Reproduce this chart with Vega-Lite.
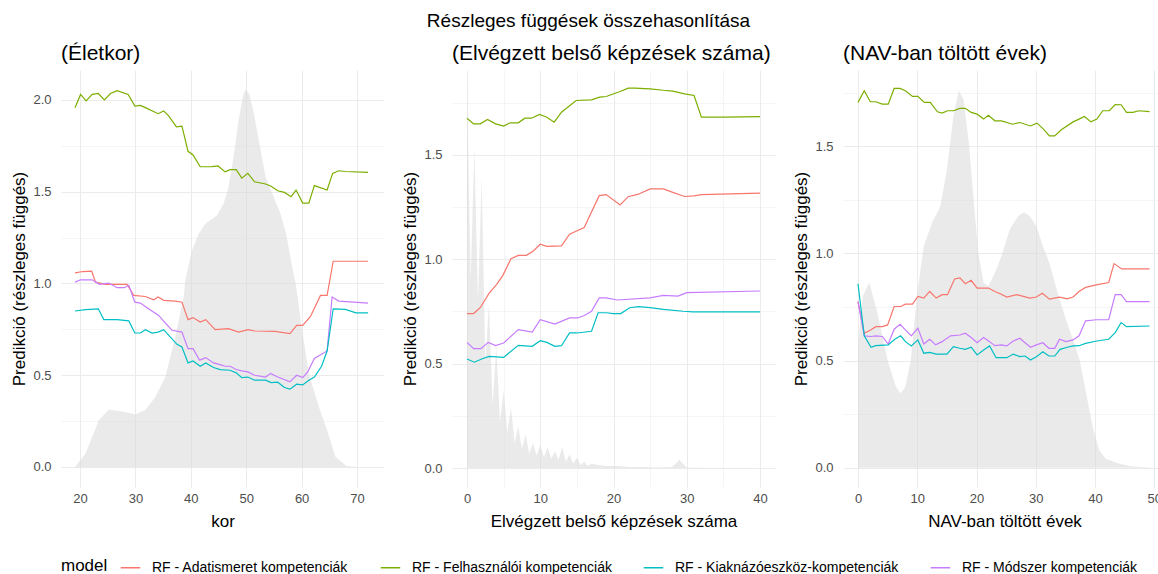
{
"$schema": "https://vega.github.io/schema/vega-lite/v6.json",
"padding": {"left": 10, "top": 12, "right": 0, "bottom": 0},
"background": "white",
"title": {"text": "Részleges függések összehasonlítása", "fontSize": 19, "fontWeight": "normal", "anchor": "middle", "offset": 12, "color": "#000000"},
"config": {
  "font": "Liberation Sans",
  "view": {"stroke": null},
  "axis": {"domain": false, "ticks": false, "labelColor": "#4D4D4D", "labelFontSize": 13, "titleFontSize": 17, "titleFontWeight": "normal", "titleColor": "#000000", "gridColor": "#EBEBEB", "labelOverlap": false},
  "axisY": {"labelPadding": 10, "titlePadding": 4},
  "axisX": {"labelPadding": 5, "titlePadding": 8},
  "title": {"fontWeight": "normal", "color": "#000000"},
  "legend": {"orient": "bottom", "direction": "horizontal", "offset": 28, "titleOrient": "left", "titleAnchor": "middle", "titleBaseline": "middle", "titleFontSize": 17, "titleFontWeight": "normal", "titleColor": "#000000", "labelFontSize": 14, "labelColor": "#000000", "labelLimit": 0, "labelOffset": 11, "symbolType": "stroke", "symbolStrokeWidth": 1.5, "symbolSize": 380, "columnPadding": 28, "titlePadding": 12}
},
"spacing": 17,
"resolve": {"scale": {"x": "independent", "y": "independent", "color": "shared"}},
"hconcat": [
 {
  "width": 323, "height": 417,
  "title": {"text": "(Életkor)", "anchor": "start", "frame": "group", "fontSize": 21, "offset": 6},
  "layer": [
   {"data": {"name": "dens"}, "transform": [{"filter": "datum.panel == 'kor'"}],
    "mark": {"type": "area", "color": "#D9D9D9", "opacity": 0.55},
    "encoding": {
      "x": {"field": "x", "type": "quantitative", "title": "kor", "scale": {"domain": [16.57, 74.87], "nice": false, "zero": false},
            "axis": {"values": [20,25,30,35,40,45,50,55,60,65,70], "labelExpr": "datum.value % 10 == 0 ? datum.label : ''", "gridWidth": {"condition": {"test": "datum.value % 10 == 0", "value": 1}, "value": 0.5}}},
      "y": {"field": "density", "type": "quantitative", "title": "Predikció (részleges függés)", "scale": {"domain": [-0.109, 2.163], "nice": false, "zero": false},
            "axis": {"values": [0,0.25,0.5,0.75,1,1.25,1.5,1.75,2], "labelExpr": "datum.value % 0.5 == 0 ? format(datum.value, '.1f') : ''", "gridWidth": {"condition": {"test": "datum.value % 0.5 == 0", "value": 1}, "value": 0.5}}},
      "y2": {"datum": 0}
    }},
   {"data": {"name": "pd"}, "transform": [{"filter": "datum.panel == 'kor'"}],
    "mark": {"type": "line", "strokeWidth": 1.2},
    "encoding": {
      "x": {"field": "x", "type": "quantitative"},
      "y": {"field": "value", "type": "quantitative"},
      "color": {"field": "model", "type": "nominal", "title": "model",
        "scale": {"domain": ["RF - Adatismeret kompetenciák", "RF - Felhasználói kompetenciák", "RF - Kiaknázóeszköz-kompetenciák", "RF - Módszer kompetenciák"], "range": ["#F8766D", "#7CAE00", "#00BFC4", "#C77CFF"]}}
    }}
  ]
 },
 {
  "width": 323, "height": 417,
  "title": {"text": "(Elvégzett belső képzések száma)", "anchor": "start", "frame": "group", "fontSize": 21, "offset": 6},
  "layer": [
   {"data": {"name": "dens"}, "transform": [{"filter": "datum.panel == 'kepz'"}],
    "mark": {"type": "area", "color": "#D9D9D9", "opacity": 0.55},
    "encoding": {
      "x": {"field": "x", "type": "quantitative", "title": "Elvégzett belső képzések száma", "scale": {"domain": [-2.05, 42.05], "nice": false, "zero": false},
            "axis": {"values": [0,5,10,15,20,25,30,35,40], "labelExpr": "datum.value % 10 == 0 ? datum.label : ''", "gridWidth": {"condition": {"test": "datum.value % 10 == 0", "value": 1}, "value": 0.5}}},
      "y": {"field": "density", "type": "quantitative", "title": "Predikció (részleges függés)", "scale": {"domain": [-0.091, 1.907], "nice": false, "zero": false},
            "axis": {"values": [0,0.25,0.5,0.75,1,1.25,1.5,1.75], "labelExpr": "datum.value % 0.5 == 0 ? format(datum.value, '.1f') : ''", "gridWidth": {"condition": {"test": "datum.value % 0.5 == 0", "value": 1}, "value": 0.5}}},
      "y2": {"datum": 0}
    }},
   {"data": {"name": "pd"}, "transform": [{"filter": "datum.panel == 'kepz'"}],
    "mark": {"type": "line", "strokeWidth": 1.2},
    "encoding": {
      "x": {"field": "x", "type": "quantitative"},
      "y": {"field": "value", "type": "quantitative"},
      "color": {"field": "model", "type": "nominal", "title": "model"}
    }}
  ]
 },
 {
  "width": 323, "height": 417,
  "title": {"text": "(NAV-ban töltött évek)", "anchor": "start", "frame": "group", "fontSize": 21, "offset": 6},
  "layer": [
   {"data": {"name": "dens"}, "transform": [{"filter": "datum.panel == 'nav'"}],
    "mark": {"type": "area", "color": "#D9D9D9", "opacity": 0.55},
    "encoding": {
      "x": {"field": "x", "type": "quantitative", "title": "NAV-ban töltött évek", "scale": {"domain": [-2.53, 51.97], "nice": false, "zero": false},
            "axis": {"values": [0,5,10,15,20,25,30,35,40,45,50], "labelExpr": "datum.value % 10 == 0 ? datum.label : ''", "gridWidth": {"condition": {"test": "datum.value % 10 == 0", "value": 1}, "value": 0.5}}},
      "y": {"field": "density", "type": "quantitative", "title": "Predikció (részleges függés)", "scale": {"domain": [-0.09, 1.855], "nice": false, "zero": false},
            "axis": {"values": [0,0.25,0.5,0.75,1,1.25,1.5,1.75], "labelExpr": "datum.value % 0.5 == 0 ? format(datum.value, '.1f') : ''", "gridWidth": {"condition": {"test": "datum.value % 0.5 == 0", "value": 1}, "value": 0.5}}},
      "y2": {"datum": 0}
    }},
   {"data": {"name": "pd"}, "transform": [{"filter": "datum.panel == 'nav'"}],
    "mark": {"type": "line", "strokeWidth": 1.2},
    "encoding": {
      "x": {"field": "x", "type": "quantitative"},
      "y": {"field": "value", "type": "quantitative"},
      "color": {"field": "model", "type": "nominal", "title": "model"}
    }}
  ]
 }
],
"datasets": {
 "dens": [
  {"panel":"kor","x":19.1,"density":0},{"panel":"kor","x":21,"density":0.074},{"panel":"kor","x":23.4,"density":0.255},{"panel":"kor","x":25.2,"density":0.313},{"panel":"kor","x":28.2,"density":0.3},{"panel":"kor","x":30,"density":0.286},{"panel":"kor","x":31.8,"density":0.31},{"panel":"kor","x":33.6,"density":0.382},{"panel":"kor","x":35.4,"density":0.49},{"panel":"kor","x":37.2,"density":0.708},{"panel":"kor","x":38.7,"density":0.925},{"panel":"kor","x":39,"density":1.016},{"panel":"kor","x":40.2,"density":1.18},{"panel":"kor","x":41.4,"density":1.27},{"panel":"kor","x":42.6,"density":1.324},{"panel":"kor","x":44.7,"density":1.37},{"panel":"kor","x":45.9,"density":1.433},{"panel":"kor","x":46.8,"density":1.523},{"panel":"kor","x":47.7,"density":1.686},{"panel":"kor","x":48.6,"density":1.886},{"panel":"kor","x":49.5,"density":2.03},{"panel":"kor","x":49.9,"density":2.058},{"panel":"kor","x":50.6,"density":2.03},{"panel":"kor","x":51.4,"density":1.922},{"panel":"kor","x":52.4,"density":1.76},{"panel":"kor","x":53.5,"density":1.578},{"panel":"kor","x":55,"density":1.469},{"panel":"kor","x":56.2,"density":1.379},{"panel":"kor","x":57.2,"density":1.27},{"panel":"kor","x":58.3,"density":1.089},{"panel":"kor","x":58.9,"density":1.007},{"panel":"kor","x":60.1,"density":0.745},{"panel":"kor","x":61.3,"density":0.509},{"panel":"kor","x":63.1,"density":0.328},{"panel":"kor","x":64.6,"density":0.2},{"panel":"kor","x":66.1,"density":0.056},{"panel":"kor","x":68.1,"density":0.005},{"panel":"kor","x":70,"density":0},{"panel":"kor","x":72,"density":0},
  {"panel":"kepz","x":0,"density":1.82},{"panel":"kepz","x":0.5,"density":0.9},{"panel":"kepz","x":1,"density":1.53},{"panel":"kepz","x":1.5,"density":0.8},{"panel":"kepz","x":2,"density":1.39},{"panel":"kepz","x":2.5,"density":0.5},{"panel":"kepz","x":3,"density":0.79},{"panel":"kepz","x":3.5,"density":0.3},{"panel":"kepz","x":4,"density":0.58},{"panel":"kepz","x":4.5,"density":0.22},{"panel":"kepz","x":5,"density":0.37},{"panel":"kepz","x":5.5,"density":0.17},{"panel":"kepz","x":6,"density":0.29},{"panel":"kepz","x":6.5,"density":0.12},{"panel":"kepz","x":7,"density":0.2},{"panel":"kepz","x":7.5,"density":0.09},{"panel":"kepz","x":8,"density":0.16},{"panel":"kepz","x":8.5,"density":0.07},{"panel":"kepz","x":9,"density":0.12},{"panel":"kepz","x":9.5,"density":0.06},{"panel":"kepz","x":10,"density":0.11},{"panel":"kepz","x":10.5,"density":0.05},{"panel":"kepz","x":11,"density":0.1},{"panel":"kepz","x":11.5,"density":0.045},{"panel":"kepz","x":12,"density":0.08},{"panel":"kepz","x":12.5,"density":0.04},{"panel":"kepz","x":13,"density":0.1},{"panel":"kepz","x":13.5,"density":0.03},{"panel":"kepz","x":14,"density":0.065},{"panel":"kepz","x":14.5,"density":0.02},{"panel":"kepz","x":15,"density":0.05},{"panel":"kepz","x":15.5,"density":0.015},{"panel":"kepz","x":16,"density":0.03},{"panel":"kepz","x":16.5,"density":0.01},{"panel":"kepz","x":17,"density":0.02},{"panel":"kepz","x":18,"density":0.015},{"panel":"kepz","x":19,"density":0.01},{"panel":"kepz","x":20,"density":0.01},{"panel":"kepz","x":21,"density":0.008},{"panel":"kepz","x":22,"density":0.005},{"panel":"kepz","x":24,"density":0.005},{"panel":"kepz","x":26,"density":0.003},{"panel":"kepz","x":28,"density":0.005},{"panel":"kepz","x":28.5,"density":0.02},{"panel":"kepz","x":29,"density":0.04},{"panel":"kepz","x":29.5,"density":0.02},{"panel":"kepz","x":30,"density":0.003},{"panel":"kepz","x":32,"density":0.001},{"panel":"kepz","x":40,"density":0},
  {"panel":"nav","x":0,"density":0.58},{"panel":"nav","x":0.8,"density":0.8},{"panel":"nav","x":1.9,"density":0.864},{"panel":"nav","x":3.3,"density":0.72},{"panel":"nav","x":5,"density":0.5},{"panel":"nav","x":6.4,"density":0.378},{"panel":"nav","x":7.2,"density":0.346},{"panel":"nav","x":8,"density":0.378},{"panel":"nav","x":8.9,"density":0.5},{"panel":"nav","x":10,"density":0.814},{"panel":"nav","x":11.1,"density":1.033},{"panel":"nav","x":12.5,"density":1.142},{"panel":"nav","x":13.9,"density":1.22},{"panel":"nav","x":15,"density":1.39},{"panel":"nav","x":16.1,"density":1.641},{"panel":"nav","x":17,"density":1.758},{"panel":"nav","x":17.8,"density":1.719},{"panel":"nav","x":18.7,"density":1.516},{"panel":"nav","x":19.5,"density":1.251},{"panel":"nav","x":20.3,"density":1.0},{"panel":"nav","x":21.2,"density":0.861},{"panel":"nav","x":22,"density":0.846},{"panel":"nav","x":23.1,"density":0.908},{"panel":"nav","x":24.2,"density":0.986},{"panel":"nav","x":25.6,"density":1.111},{"panel":"nav","x":27,"density":1.173},{"panel":"nav","x":28,"density":1.192},{"panel":"nav","x":29,"density":1.173},{"panel":"nav","x":30.1,"density":1.126},{"panel":"nav","x":31.2,"density":1.033},{"panel":"nav","x":32.3,"density":0.955},{"panel":"nav","x":33.7,"density":0.814},{"panel":"nav","x":35.1,"density":0.69},{"panel":"nav","x":36.5,"density":0.58},{"panel":"nav","x":37.4,"density":0.502},{"panel":"nav","x":38.5,"density":0.346},{"panel":"nav","x":39.6,"density":0.19},{"panel":"nav","x":40.7,"density":0.081},{"panel":"nav","x":41.8,"density":0.042},{"panel":"nav","x":44.1,"density":0.019},{"panel":"nav","x":46.3,"density":0.006},{"panel":"nav","x":50,"density":0}
 ],
 "pd": [
  {"panel":"kor","model":"RF - Felhasználói kompetenciák","x":19.1,"value":1.957},{"panel":"kor","model":"RF - Felhasználói kompetenciák","x":20.1,"value":2.03},{"panel":"kor","model":"RF - Felhasználói kompetenciák","x":21.1,"value":1.995},{"panel":"kor","model":"RF - Felhasználói kompetenciák","x":22.2,"value":2.03},{"panel":"kor","model":"RF - Felhasználói kompetenciák","x":23.3,"value":2.035},{"panel":"kor","model":"RF - Felhasználói kompetenciák","x":24.4,"value":2.0},{"panel":"kor","model":"RF - Felhasználói kompetenciák","x":25.5,"value":2.035},{"panel":"kor","model":"RF - Felhasználói kompetenciák","x":26.7,"value":2.05},{"panel":"kor","model":"RF - Felhasználói kompetenciák","x":28.7,"value":2.03},{"panel":"kor","model":"RF - Felhasználói kompetenciák","x":29.9,"value":1.966},{"panel":"kor","model":"RF - Felhasználói kompetenciák","x":30.9,"value":1.97},{"panel":"kor","model":"RF - Felhasználói kompetenciák","x":31.8,"value":1.958},{"panel":"kor","model":"RF - Felhasználói kompetenciák","x":34.1,"value":1.925},{"panel":"kor","model":"RF - Felhasználói kompetenciák","x":35.1,"value":1.94},{"panel":"kor","model":"RF - Felhasználói kompetenciák","x":36,"value":1.913},{"panel":"kor","model":"RF - Felhasználói kompetenciák","x":37.4,"value":1.853},{"panel":"kor","model":"RF - Felhasználói kompetenciák","x":38.4,"value":1.857},{"panel":"kor","model":"RF - Felhasználói kompetenciák","x":39.5,"value":1.72},{"panel":"kor","model":"RF - Felhasználói kompetenciák","x":40.4,"value":1.7},{"panel":"kor","model":"RF - Felhasználói kompetenciák","x":41.7,"value":1.636},{"panel":"kor","model":"RF - Felhasználói kompetenciák","x":43.8,"value":1.637},{"panel":"kor","model":"RF - Felhasználói kompetenciák","x":44.9,"value":1.64},{"panel":"kor","model":"RF - Felhasználói kompetenciák","x":46.2,"value":1.608},{"panel":"kor","model":"RF - Felhasználói kompetenciák","x":47.1,"value":1.62},{"panel":"kor","model":"RF - Felhasználói kompetenciák","x":48.2,"value":1.62},{"panel":"kor","model":"RF - Felhasználói kompetenciák","x":49.2,"value":1.574},{"panel":"kor","model":"RF - Felhasználói kompetenciák","x":50.3,"value":1.6},{"panel":"kor","model":"RF - Felhasználói kompetenciák","x":51.5,"value":1.554},{"panel":"kor","model":"RF - Felhasználói kompetenciák","x":53.5,"value":1.542},{"panel":"kor","model":"RF - Felhasználói kompetenciák","x":54.5,"value":1.53},{"panel":"kor","model":"RF - Felhasználói kompetenciák","x":55.7,"value":1.505},{"panel":"kor","model":"RF - Felhasználói kompetenciák","x":56.9,"value":1.496},{"panel":"kor","model":"RF - Felhasználói kompetenciák","x":58.1,"value":1.473},{"panel":"kor","model":"RF - Felhasználói kompetenciák","x":59,"value":1.509},{"panel":"kor","model":"RF - Felhasználói kompetenciák","x":60.2,"value":1.438},{"panel":"kor","model":"RF - Felhasználói kompetenciák","x":61.3,"value":1.438},{"panel":"kor","model":"RF - Felhasználói kompetenciák","x":62.3,"value":1.533},{"panel":"kor","model":"RF - Felhasználói kompetenciák","x":64.6,"value":1.509},{"panel":"kor","model":"RF - Felhasználói kompetenciák","x":65.6,"value":1.6},{"panel":"kor","model":"RF - Felhasználói kompetenciák","x":66.7,"value":1.614},{"panel":"kor","model":"RF - Felhasználói kompetenciák","x":67.9,"value":1.61},{"panel":"kor","model":"RF - Felhasználói kompetenciák","x":72,"value":1.605},
  {"panel":"kor","model":"RF - Adatismeret kompetenciák","x":19.1,"value":1.058},{"panel":"kor","model":"RF - Adatismeret kompetenciák","x":20.5,"value":1.065},{"panel":"kor","model":"RF - Adatismeret kompetenciák","x":22.1,"value":1.067},{"panel":"kor","model":"RF - Adatismeret kompetenciák","x":22.8,"value":1.007},{"panel":"kor","model":"RF - Adatismeret kompetenciák","x":24.6,"value":0.995},{"panel":"kor","model":"RF - Adatismeret kompetenciák","x":28.5,"value":0.995},{"panel":"kor","model":"RF - Adatismeret kompetenciák","x":29.7,"value":0.935},{"panel":"kor","model":"RF - Adatismeret kompetenciák","x":31.8,"value":0.929},{"panel":"kor","model":"RF - Adatismeret kompetenciák","x":33.3,"value":0.911},{"panel":"kor","model":"RF - Adatismeret kompetenciák","x":34.1,"value":0.926},{"panel":"kor","model":"RF - Adatismeret kompetenciák","x":35.1,"value":0.908},{"panel":"kor","model":"RF - Adatismeret kompetenciák","x":37.2,"value":0.904},{"panel":"kor","model":"RF - Adatismeret kompetenciák","x":38.4,"value":0.898},{"panel":"kor","model":"RF - Adatismeret kompetenciák","x":39.5,"value":0.803},{"panel":"kor","model":"RF - Adatismeret kompetenciák","x":40.4,"value":0.814},{"panel":"kor","model":"RF - Adatismeret kompetenciák","x":41.7,"value":0.79},{"panel":"kor","model":"RF - Adatismeret kompetenciák","x":42.7,"value":0.803},{"panel":"kor","model":"RF - Adatismeret kompetenciák","x":44.4,"value":0.748},{"panel":"kor","model":"RF - Adatismeret kompetenciák","x":46.8,"value":0.754},{"panel":"kor","model":"RF - Adatismeret kompetenciák","x":48.6,"value":0.735},{"panel":"kor","model":"RF - Adatismeret kompetenciák","x":50.3,"value":0.748},{"panel":"kor","model":"RF - Adatismeret kompetenciák","x":51.6,"value":0.741},{"panel":"kor","model":"RF - Adatismeret kompetenciák","x":55.2,"value":0.739},{"panel":"kor","model":"RF - Adatismeret kompetenciák","x":57.9,"value":0.727},{"panel":"kor","model":"RF - Adatismeret kompetenciák","x":59.1,"value":0.772},{"panel":"kor","model":"RF - Adatismeret kompetenciák","x":60.2,"value":0.772},{"panel":"kor","model":"RF - Adatismeret kompetenciák","x":61.6,"value":0.82},{"panel":"kor","model":"RF - Adatismeret kompetenciák","x":63.4,"value":0.935},{"panel":"kor","model":"RF - Adatismeret kompetenciák","x":64.6,"value":0.935},{"panel":"kor","model":"RF - Adatismeret kompetenciák","x":65.7,"value":1.121},{"panel":"kor","model":"RF - Adatismeret kompetenciák","x":72,"value":1.121},
  {"panel":"kor","model":"RF - Módszer kompetenciák","x":19.1,"value":1.007},{"panel":"kor","model":"RF - Módszer kompetenciák","x":20.1,"value":1.02},{"panel":"kor","model":"RF - Módszer kompetenciák","x":22.2,"value":1.02},{"panel":"kor","model":"RF - Módszer kompetenciák","x":23.5,"value":0.995},{"panel":"kor","model":"RF - Módszer kompetenciák","x":25.2,"value":1.002},{"panel":"kor","model":"RF - Módszer kompetenciák","x":26.7,"value":0.977},{"panel":"kor","model":"RF - Módszer kompetenciák","x":28,"value":0.977},{"panel":"kor","model":"RF - Módszer kompetenciák","x":28.8,"value":0.99},{"panel":"kor","model":"RF - Módszer kompetenciák","x":29.9,"value":0.898},{"panel":"kor","model":"RF - Módszer kompetenciák","x":30.9,"value":0.893},{"panel":"kor","model":"RF - Módszer kompetenciák","x":32.1,"value":0.868},{"panel":"kor","model":"RF - Módszer kompetenciák","x":34.2,"value":0.826},{"panel":"kor","model":"RF - Módszer kompetenciák","x":35.1,"value":0.795},{"panel":"kor","model":"RF - Módszer kompetenciák","x":36.6,"value":0.745},{"panel":"kor","model":"RF - Módszer kompetenciák","x":38.4,"value":0.735},{"panel":"kor","model":"RF - Módszer kompetenciák","x":39.5,"value":0.645},{"panel":"kor","model":"RF - Módszer kompetenciák","x":40.4,"value":0.645},{"panel":"kor","model":"RF - Módszer kompetenciák","x":41.6,"value":0.582},{"panel":"kor","model":"RF - Módszer kompetenciák","x":42.7,"value":0.596},{"panel":"kor","model":"RF - Módszer kompetenciák","x":44.1,"value":0.567},{"panel":"kor","model":"RF - Módszer kompetenciák","x":45.3,"value":0.558},{"panel":"kor","model":"RF - Módszer kompetenciák","x":46.2,"value":0.549},{"panel":"kor","model":"RF - Módszer kompetenciák","x":47.1,"value":0.549},{"panel":"kor","model":"RF - Módszer kompetenciák","x":48.2,"value":0.531},{"panel":"kor","model":"RF - Módszer kompetenciák","x":49.2,"value":0.524},{"panel":"kor","model":"RF - Módszer kompetenciák","x":50.3,"value":0.518},{"panel":"kor","model":"RF - Módszer kompetenciák","x":51.5,"value":0.5},{"panel":"kor","model":"RF - Módszer kompetenciák","x":53.5,"value":0.49},{"panel":"kor","model":"RF - Módszer kompetenciák","x":54.4,"value":0.51},{"panel":"kor","model":"RF - Módszer kompetenciák","x":55.7,"value":0.49},{"panel":"kor","model":"RF - Módszer kompetenciák","x":57.9,"value":0.464},{"panel":"kor","model":"RF - Módszer kompetenciák","x":59.1,"value":0.5},{"panel":"kor","model":"RF - Módszer kompetenciák","x":60.2,"value":0.487},{"panel":"kor","model":"RF - Módszer kompetenciák","x":61.1,"value":0.518},{"panel":"kor","model":"RF - Módszer kompetenciák","x":62.3,"value":0.591},{"panel":"kor","model":"RF - Módszer kompetenciák","x":64.6,"value":0.632},{"panel":"kor","model":"RF - Módszer kompetenciák","x":65.5,"value":0.926},{"panel":"kor","model":"RF - Módszer kompetenciák","x":66.7,"value":0.904},{"panel":"kor","model":"RF - Módszer kompetenciák","x":72,"value":0.893},
  {"panel":"kor","model":"RF - Kiaknázóeszköz-kompetenciák","x":19.1,"value":0.85},{"panel":"kor","model":"RF - Kiaknázóeszköz-kompetenciák","x":21,"value":0.857},{"panel":"kor","model":"RF - Kiaknázóeszköz-kompetenciák","x":23.3,"value":0.862},{"panel":"kor","model":"RF - Kiaknázóeszköz-kompetenciák","x":24.3,"value":0.803},{"panel":"kor","model":"RF - Kiaknázóeszköz-kompetenciák","x":26.7,"value":0.803},{"panel":"kor","model":"RF - Kiaknázóeszköz-kompetenciák","x":28.8,"value":0.796},{"panel":"kor","model":"RF - Kiaknázóeszköz-kompetenciák","x":29.9,"value":0.73},{"panel":"kor","model":"RF - Kiaknázóeszköz-kompetenciák","x":30.9,"value":0.73},{"panel":"kor","model":"RF - Kiaknázóeszköz-kompetenciák","x":31.8,"value":0.748},{"panel":"kor","model":"RF - Kiaknázóeszköz-kompetenciák","x":33,"value":0.73},{"panel":"kor","model":"RF - Kiaknázóeszköz-kompetenciák","x":34.1,"value":0.735},{"panel":"kor","model":"RF - Kiaknázóeszköz-kompetenciák","x":35.1,"value":0.748},{"panel":"kor","model":"RF - Kiaknázóeszköz-kompetenciák","x":37.5,"value":0.668},{"panel":"kor","model":"RF - Kiaknázóeszköz-kompetenciák","x":38.4,"value":0.654},{"panel":"kor","model":"RF - Kiaknázóeszköz-kompetenciák","x":39.5,"value":0.567},{"panel":"kor","model":"RF - Kiaknázóeszköz-kompetenciák","x":40.4,"value":0.578},{"panel":"kor","model":"RF - Kiaknázóeszköz-kompetenciák","x":41.7,"value":0.549},{"panel":"kor","model":"RF - Kiaknázóeszköz-kompetenciák","x":42.7,"value":0.567},{"panel":"kor","model":"RF - Kiaknázóeszköz-kompetenciák","x":44.1,"value":0.542},{"panel":"kor","model":"RF - Kiaknázóeszköz-kompetenciák","x":45.3,"value":0.531},{"panel":"kor","model":"RF - Kiaknázóeszköz-kompetenciák","x":47.1,"value":0.527},{"panel":"kor","model":"RF - Kiaknázóeszköz-kompetenciák","x":48.2,"value":0.513},{"panel":"kor","model":"RF - Kiaknázóeszköz-kompetenciák","x":49.2,"value":0.487},{"panel":"kor","model":"RF - Kiaknázóeszköz-kompetenciák","x":50.3,"value":0.49},{"panel":"kor","model":"RF - Kiaknázóeszköz-kompetenciák","x":51.5,"value":0.473},{"panel":"kor","model":"RF - Kiaknázóeszköz-kompetenciák","x":53.5,"value":0.473},{"panel":"kor","model":"RF - Kiaknázóeszköz-kompetenciák","x":54.5,"value":0.46},{"panel":"kor","model":"RF - Kiaknázóeszköz-kompetenciák","x":55.7,"value":0.462},{"panel":"kor","model":"RF - Kiaknázóeszköz-kompetenciák","x":56.9,"value":0.433},{"panel":"kor","model":"RF - Kiaknázóeszköz-kompetenciák","x":57.9,"value":0.424},{"panel":"kor","model":"RF - Kiaknázóeszköz-kompetenciák","x":59.1,"value":0.451},{"panel":"kor","model":"RF - Kiaknázóeszköz-kompetenciák","x":60.2,"value":0.447},{"panel":"kor","model":"RF - Kiaknázóeszköz-kompetenciák","x":61.3,"value":0.473},{"panel":"kor","model":"RF - Kiaknázóeszköz-kompetenciák","x":62.3,"value":0.49},{"panel":"kor","model":"RF - Kiaknázóeszköz-kompetenciák","x":63.6,"value":0.549},{"panel":"kor","model":"RF - Kiaknázóeszköz-kompetenciák","x":64.6,"value":0.632},{"panel":"kor","model":"RF - Kiaknázóeszköz-kompetenciák","x":65.7,"value":0.862},{"panel":"kor","model":"RF - Kiaknázóeszköz-kompetenciák","x":67.9,"value":0.859},{"panel":"kor","model":"RF - Kiaknázóeszköz-kompetenciák","x":69.8,"value":0.84},{"panel":"kor","model":"RF - Kiaknázóeszköz-kompetenciák","x":72,"value":0.84},
  {"panel":"kepz","model":"RF - Felhasználói kompetenciák","x":0,"value":1.676},{"panel":"kepz","model":"RF - Felhasználói kompetenciák","x":0.9,"value":1.649},{"panel":"kepz","model":"RF - Felhasználói kompetenciák","x":1.8,"value":1.649},{"panel":"kepz","model":"RF - Felhasználói kompetenciák","x":2.8,"value":1.67},{"panel":"kepz","model":"RF - Felhasználói kompetenciák","x":3.9,"value":1.649},{"panel":"kepz","model":"RF - Felhasználói kompetenciák","x":5,"value":1.638},{"panel":"kepz","model":"RF - Felhasználói kompetenciák","x":5.9,"value":1.654},{"panel":"kepz","model":"RF - Felhasználói kompetenciák","x":7,"value":1.654},{"panel":"kepz","model":"RF - Felhasználói kompetenciák","x":7.9,"value":1.676},{"panel":"kepz","model":"RF - Felhasználói kompetenciák","x":8.8,"value":1.676},{"panel":"kepz","model":"RF - Felhasználói kompetenciák","x":9.9,"value":1.694},{"panel":"kepz","model":"RF - Felhasználói kompetenciák","x":10.9,"value":1.681},{"panel":"kepz","model":"RF - Felhasználói kompetenciák","x":11.9,"value":1.657},{"panel":"kepz","model":"RF - Felhasználói kompetenciák","x":12.9,"value":1.705},{"panel":"kepz","model":"RF - Felhasználói kompetenciák","x":14.9,"value":1.761},{"panel":"kepz","model":"RF - Felhasználói kompetenciák","x":17,"value":1.764},{"panel":"kepz","model":"RF - Felhasználói kompetenciák","x":18.1,"value":1.777},{"panel":"kepz","model":"RF - Felhasználói kompetenciák","x":19,"value":1.78},{"panel":"kepz","model":"RF - Felhasználói kompetenciák","x":20.9,"value":1.804},{"panel":"kepz","model":"RF - Felhasználói kompetenciák","x":22,"value":1.82},{"panel":"kepz","model":"RF - Felhasználói kompetenciák","x":22.9,"value":1.82},{"panel":"kepz","model":"RF - Felhasználói kompetenciák","x":25,"value":1.817},{"panel":"kepz","model":"RF - Felhasználói kompetenciák","x":26.8,"value":1.81},{"panel":"kepz","model":"RF - Felhasználói kompetenciák","x":28.1,"value":1.806},{"panel":"kepz","model":"RF - Felhasználói kompetenciák","x":29.7,"value":1.793},{"panel":"kepz","model":"RF - Felhasználói kompetenciák","x":31,"value":1.785},{"panel":"kepz","model":"RF - Felhasználói kompetenciák","x":32,"value":1.681},{"panel":"kepz","model":"RF - Felhasználói kompetenciák","x":35,"value":1.681},{"panel":"kepz","model":"RF - Felhasználói kompetenciák","x":40,"value":1.684},
  {"panel":"kepz","model":"RF - Adatismeret kompetenciák","x":0,"value":0.74},{"panel":"kepz","model":"RF - Adatismeret kompetenciák","x":0.9,"value":0.74},{"panel":"kepz","model":"RF - Adatismeret kompetenciák","x":1.8,"value":0.768},{"panel":"kepz","model":"RF - Adatismeret kompetenciák","x":3,"value":0.837},{"panel":"kepz","model":"RF - Adatismeret kompetenciák","x":4.05,"value":0.88},{"panel":"kepz","model":"RF - Adatismeret kompetenciák","x":4.9,"value":0.923},{"panel":"kepz","model":"RF - Adatismeret kompetenciák","x":6,"value":1.003},{"panel":"kepz","model":"RF - Adatismeret kompetenciák","x":7,"value":1.019},{"panel":"kepz","model":"RF - Adatismeret kompetenciák","x":8.1,"value":1.019},{"panel":"kepz","model":"RF - Adatismeret kompetenciák","x":9.05,"value":1.04},{"panel":"kepz","model":"RF - Adatismeret kompetenciák","x":10,"value":1.072},{"panel":"kepz","model":"RF - Adatismeret kompetenciák","x":10.9,"value":1.062},{"panel":"kepz","model":"RF - Adatismeret kompetenciák","x":12.9,"value":1.064},{"panel":"kepz","model":"RF - Adatismeret kompetenciák","x":14,"value":1.12},{"panel":"kepz","model":"RF - Adatismeret kompetenciák","x":16,"value":1.152},{"panel":"kepz","model":"RF - Adatismeret kompetenciák","x":18.05,"value":1.305},{"panel":"kepz","model":"RF - Adatismeret kompetenciák","x":19,"value":1.31},{"panel":"kepz","model":"RF - Adatismeret kompetenciák","x":20.9,"value":1.26},{"panel":"kepz","model":"RF - Adatismeret kompetenciák","x":22,"value":1.3},{"panel":"kepz","model":"RF - Adatismeret kompetenciák","x":23.4,"value":1.312},{"panel":"kepz","model":"RF - Adatismeret kompetenciák","x":25,"value":1.337},{"panel":"kepz","model":"RF - Adatismeret kompetenciák","x":26.8,"value":1.337},{"panel":"kepz","model":"RF - Adatismeret kompetenciák","x":28,"value":1.322},{"panel":"kepz","model":"RF - Adatismeret kompetenciák","x":29.7,"value":1.301},{"panel":"kepz","model":"RF - Adatismeret kompetenciák","x":31,"value":1.304},{"panel":"kepz","model":"RF - Adatismeret kompetenciák","x":32,"value":1.31},{"panel":"kepz","model":"RF - Adatismeret kompetenciák","x":40,"value":1.317},
  {"panel":"kepz","model":"RF - Módszer kompetenciák","x":0,"value":0.602},{"panel":"kepz","model":"RF - Módszer kompetenciák","x":0.9,"value":0.572},{"panel":"kepz","model":"RF - Módszer kompetenciák","x":1.9,"value":0.572},{"panel":"kepz","model":"RF - Módszer kompetenciák","x":2.9,"value":0.602},{"panel":"kepz","model":"RF - Módszer kompetenciák","x":3.9,"value":0.587},{"panel":"kepz","model":"RF - Módszer kompetenciák","x":5,"value":0.599},{"panel":"kepz","model":"RF - Módszer kompetenciák","x":7,"value":0.663},{"panel":"kepz","model":"RF - Módszer kompetenciák","x":8.9,"value":0.651},{"panel":"kepz","model":"RF - Módszer kompetenciák","x":10,"value":0.711},{"panel":"kepz","model":"RF - Módszer kompetenciák","x":12,"value":0.69},{"panel":"kepz","model":"RF - Módszer kompetenciák","x":14,"value":0.719},{"panel":"kepz","model":"RF - Módszer kompetenciák","x":15.1,"value":0.719},{"panel":"kepz","model":"RF - Módszer kompetenciák","x":16,"value":0.731},{"panel":"kepz","model":"RF - Módszer kompetenciák","x":17,"value":0.751},{"panel":"kepz","model":"RF - Módszer kompetenciák","x":18.05,"value":0.815},{"panel":"kepz","model":"RF - Módszer kompetenciák","x":19,"value":0.815},{"panel":"kepz","model":"RF - Módszer kompetenciák","x":20.5,"value":0.805},{"panel":"kepz","model":"RF - Módszer kompetenciák","x":25,"value":0.815},{"panel":"kepz","model":"RF - Módszer kompetenciák","x":26.8,"value":0.827},{"panel":"kepz","model":"RF - Módszer kompetenciák","x":28.8,"value":0.824},{"panel":"kepz","model":"RF - Módszer kompetenciák","x":30,"value":0.84},{"panel":"kepz","model":"RF - Módszer kompetenciák","x":40,"value":0.848},
  {"panel":"kepz","model":"RF - Kiaknázóeszköz-kompetenciák","x":0,"value":0.522},{"panel":"kepz","model":"RF - Kiaknázóeszköz-kompetenciák","x":1,"value":0.507},{"panel":"kepz","model":"RF - Kiaknázóeszköz-kompetenciák","x":2,"value":0.522},{"panel":"kepz","model":"RF - Kiaknázóeszköz-kompetenciák","x":3,"value":0.535},{"panel":"kepz","model":"RF - Kiaknázóeszköz-kompetenciák","x":5,"value":0.53},{"panel":"kepz","model":"RF - Kiaknázóeszköz-kompetenciák","x":7,"value":0.588},{"panel":"kepz","model":"RF - Kiaknázóeszköz-kompetenciák","x":8.9,"value":0.583},{"panel":"kepz","model":"RF - Kiaknázóeszköz-kompetenciák","x":10,"value":0.61},{"panel":"kepz","model":"RF - Kiaknázóeszköz-kompetenciák","x":10.9,"value":0.602},{"panel":"kepz","model":"RF - Kiaknázóeszköz-kompetenciák","x":12,"value":0.583},{"panel":"kepz","model":"RF - Kiaknázóeszköz-kompetenciák","x":12.9,"value":0.586},{"panel":"kepz","model":"RF - Kiaknázóeszköz-kompetenciák","x":14,"value":0.647},{"panel":"kepz","model":"RF - Kiaknázóeszköz-kompetenciák","x":15,"value":0.647},{"panel":"kepz","model":"RF - Kiaknázóeszköz-kompetenciák","x":17,"value":0.655},{"panel":"kepz","model":"RF - Kiaknázóeszköz-kompetenciák","x":17.9,"value":0.744},{"panel":"kepz","model":"RF - Kiaknázóeszköz-kompetenciák","x":19,"value":0.744},{"panel":"kepz","model":"RF - Kiaknázóeszköz-kompetenciák","x":20,"value":0.74},{"panel":"kepz","model":"RF - Kiaknázóeszköz-kompetenciák","x":21,"value":0.74},{"panel":"kepz","model":"RF - Kiaknázóeszköz-kompetenciák","x":22.2,"value":0.768},{"panel":"kepz","model":"RF - Kiaknázóeszköz-kompetenciák","x":23.4,"value":0.773},{"panel":"kepz","model":"RF - Kiaknázóeszköz-kompetenciák","x":25,"value":0.768},{"panel":"kepz","model":"RF - Kiaknázóeszköz-kompetenciák","x":26.8,"value":0.76},{"panel":"kepz","model":"RF - Kiaknázóeszköz-kompetenciák","x":29.5,"value":0.751},{"panel":"kepz","model":"RF - Kiaknázóeszköz-kompetenciák","x":30.8,"value":0.748},{"panel":"kepz","model":"RF - Kiaknázóeszköz-kompetenciák","x":40,"value":0.748},
  {"panel":"nav","model":"RF - Felhasználói kompetenciák","x":0,"value":1.704},{"panel":"nav","model":"RF - Felhasználói kompetenciák","x":1.06,"value":1.758},{"panel":"nav","model":"RF - Felhasználói kompetenciák","x":2.07,"value":1.707},{"panel":"nav","model":"RF - Felhasználói kompetenciák","x":3,"value":1.707},{"panel":"nav","model":"RF - Felhasználói kompetenciák","x":4.1,"value":1.696},{"panel":"nav","model":"RF - Felhasználói kompetenciák","x":5.1,"value":1.696},{"panel":"nav","model":"RF - Felhasználói kompetenciák","x":6.1,"value":1.769},{"panel":"nav","model":"RF - Felhasználói kompetenciák","x":7.1,"value":1.769},{"panel":"nav","model":"RF - Felhasználói kompetenciák","x":8,"value":1.758},{"panel":"nav","model":"RF - Felhasználói kompetenciák","x":9.2,"value":1.732},{"panel":"nav","model":"RF - Felhasználói kompetenciák","x":10.1,"value":1.732},{"panel":"nav","model":"RF - Felhasználói kompetenciák","x":11.2,"value":1.704},{"panel":"nav","model":"RF - Felhasználói kompetenciák","x":12.2,"value":1.704},{"panel":"nav","model":"RF - Felhasználói kompetenciák","x":13.4,"value":1.66},{"panel":"nav","model":"RF - Felhasználói kompetenciák","x":14.2,"value":1.654},{"panel":"nav","model":"RF - Felhasználói kompetenciák","x":15.1,"value":1.665},{"panel":"nav","model":"RF - Felhasználói kompetenciák","x":16.1,"value":1.665},{"panel":"nav","model":"RF - Felhasználói kompetenciák","x":17.2,"value":1.676},{"panel":"nav","model":"RF - Felhasználói kompetenciák","x":18.1,"value":1.676},{"panel":"nav","model":"RF - Felhasználói kompetenciák","x":19.1,"value":1.657},{"panel":"nav","model":"RF - Felhasználói kompetenciák","x":20.1,"value":1.649},{"panel":"nav","model":"RF - Felhasználói kompetenciák","x":21.2,"value":1.626},{"panel":"nav","model":"RF - Felhasználói kompetenciák","x":22,"value":1.644},{"panel":"nav","model":"RF - Felhasználói kompetenciák","x":23.1,"value":1.618},{"panel":"nav","model":"RF - Felhasználói kompetenciák","x":24.2,"value":1.618},{"panel":"nav","model":"RF - Felhasználói kompetenciák","x":26.1,"value":1.602},{"panel":"nav","model":"RF - Felhasználói kompetenciák","x":27.3,"value":1.61},{"panel":"nav","model":"RF - Felhasználói kompetenciák","x":29.1,"value":1.594},{"panel":"nav","model":"RF - Felhasználói kompetenciák","x":30.2,"value":1.607},{"panel":"nav","model":"RF - Felhasználói kompetenciák","x":31.3,"value":1.579},{"panel":"nav","model":"RF - Felhasználói kompetenciák","x":32.3,"value":1.548},{"panel":"nav","model":"RF - Felhasználói kompetenciák","x":33.2,"value":1.548},{"panel":"nav","model":"RF - Felhasználói kompetenciák","x":34.3,"value":1.576},{"panel":"nav","model":"RF - Felhasználói kompetenciák","x":36.3,"value":1.613},{"panel":"nav","model":"RF - Felhasználói kompetenciák","x":37.3,"value":1.626},{"panel":"nav","model":"RF - Felhasználói kompetenciák","x":38.2,"value":1.638},{"panel":"nav","model":"RF - Felhasználói kompetenciák","x":39.3,"value":1.613},{"panel":"nav","model":"RF - Felhasználói kompetenciák","x":40.3,"value":1.626},{"panel":"nav","model":"RF - Felhasználói kompetenciák","x":41.3,"value":1.665},{"panel":"nav","model":"RF - Felhasználói kompetenciák","x":42.4,"value":1.665},{"panel":"nav","model":"RF - Felhasználói kompetenciák","x":43.4,"value":1.694},{"panel":"nav","model":"RF - Felhasználói kompetenciák","x":44.4,"value":1.693},{"panel":"nav","model":"RF - Felhasználói kompetenciák","x":45.3,"value":1.657},{"panel":"nav","model":"RF - Felhasználói kompetenciák","x":46.4,"value":1.657},{"panel":"nav","model":"RF - Felhasználói kompetenciák","x":47.4,"value":1.665},{"panel":"nav","model":"RF - Felhasználói kompetenciák","x":49.2,"value":1.661},
  {"panel":"nav","model":"RF - Adatismeret kompetenciák","x":0,"value":0.775},{"panel":"nav","model":"RF - Adatismeret kompetenciák","x":1.06,"value":0.627},{"panel":"nav","model":"RF - Adatismeret kompetenciák","x":2.2,"value":0.643},{"panel":"nav","model":"RF - Adatismeret kompetenciák","x":3,"value":0.658},{"panel":"nav","model":"RF - Adatismeret kompetenciák","x":4.1,"value":0.658},{"panel":"nav","model":"RF - Adatismeret kompetenciák","x":5,"value":0.666},{"panel":"nav","model":"RF - Adatismeret kompetenciák","x":6.1,"value":0.752},{"panel":"nav","model":"RF - Adatismeret kompetenciák","x":7.2,"value":0.752},{"panel":"nav","model":"RF - Adatismeret kompetenciák","x":8,"value":0.763},{"panel":"nav","model":"RF - Adatismeret kompetenciák","x":9.2,"value":0.763},{"panel":"nav","model":"RF - Adatismeret kompetenciák","x":10.1,"value":0.799},{"panel":"nav","model":"RF - Adatismeret kompetenciák","x":11.1,"value":0.791},{"panel":"nav","model":"RF - Adatismeret kompetenciák","x":12.1,"value":0.822},{"panel":"nav","model":"RF - Adatismeret kompetenciák","x":13.2,"value":0.791},{"panel":"nav","model":"RF - Adatismeret kompetenciák","x":14.2,"value":0.807},{"panel":"nav","model":"RF - Adatismeret kompetenciák","x":15.1,"value":0.807},{"panel":"nav","model":"RF - Adatismeret kompetenciák","x":16.3,"value":0.88},{"panel":"nav","model":"RF - Adatismeret kompetenciák","x":17.2,"value":0.885},{"panel":"nav","model":"RF - Adatismeret kompetenciák","x":18.1,"value":0.858},{"panel":"nav","model":"RF - Adatismeret kompetenciák","x":19.1,"value":0.874},{"panel":"nav","model":"RF - Adatismeret kompetenciák","x":20.1,"value":0.838},{"panel":"nav","model":"RF - Adatismeret kompetenciák","x":22,"value":0.838},{"panel":"nav","model":"RF - Adatismeret kompetenciák","x":23.1,"value":0.822},{"panel":"nav","model":"RF - Adatismeret kompetenciák","x":24.1,"value":0.81},{"panel":"nav","model":"RF - Adatismeret kompetenciák","x":25.1,"value":0.796},{"panel":"nav","model":"RF - Adatismeret kompetenciák","x":26.8,"value":0.807},{"panel":"nav","model":"RF - Adatismeret kompetenciák","x":29,"value":0.791},{"panel":"nav","model":"RF - Adatismeret kompetenciák","x":30.1,"value":0.796},{"panel":"nav","model":"RF - Adatismeret kompetenciák","x":31.1,"value":0.814},{"panel":"nav","model":"RF - Adatismeret kompetenciák","x":32.3,"value":0.786},{"panel":"nav","model":"RF - Adatismeret kompetenciák","x":34,"value":0.796},{"panel":"nav","model":"RF - Adatismeret kompetenciák","x":35.3,"value":0.788},{"panel":"nav","model":"RF - Adatismeret kompetenciák","x":36.3,"value":0.796},{"panel":"nav","model":"RF - Adatismeret kompetenciák","x":37.3,"value":0.822},{"panel":"nav","model":"RF - Adatismeret kompetenciák","x":38.4,"value":0.841},{"panel":"nav","model":"RF - Adatismeret kompetenciák","x":40.2,"value":0.853},{"panel":"nav","model":"RF - Adatismeret kompetenciák","x":42.3,"value":0.864},{"panel":"nav","model":"RF - Adatismeret kompetenciák","x":43.2,"value":0.952},{"panel":"nav","model":"RF - Adatismeret kompetenciák","x":44.5,"value":0.927},{"panel":"nav","model":"RF - Adatismeret kompetenciák","x":49.2,"value":0.927},
  {"panel":"nav","model":"RF - Módszer kompetenciák","x":0,"value":0.775},{"panel":"nav","model":"RF - Módszer kompetenciák","x":1.06,"value":0.615},{"panel":"nav","model":"RF - Módszer kompetenciák","x":2.2,"value":0.612},{"panel":"nav","model":"RF - Módszer kompetenciák","x":3,"value":0.615},{"panel":"nav","model":"RF - Módszer kompetenciák","x":4.1,"value":0.612},{"panel":"nav","model":"RF - Módszer kompetenciák","x":5.1,"value":0.577},{"panel":"nav","model":"RF - Módszer kompetenciák","x":6.1,"value":0.646},{"panel":"nav","model":"RF - Módszer kompetenciák","x":7.1,"value":0.669},{"panel":"nav","model":"RF - Módszer kompetenciák","x":8,"value":0.643},{"panel":"nav","model":"RF - Módszer kompetenciák","x":9,"value":0.615},{"panel":"nav","model":"RF - Módszer kompetenciák","x":10.1,"value":0.651},{"panel":"nav","model":"RF - Módszer kompetenciák","x":11.1,"value":0.577},{"panel":"nav","model":"RF - Módszer kompetenciák","x":12.1,"value":0.599},{"panel":"nav","model":"RF - Módszer kompetenciák","x":13.1,"value":0.573},{"panel":"nav","model":"RF - Módszer kompetenciák","x":14.2,"value":0.588},{"panel":"nav","model":"RF - Módszer kompetenciák","x":15.6,"value":0.615},{"panel":"nav","model":"RF - Módszer kompetenciák","x":17.2,"value":0.619},{"panel":"nav","model":"RF - Módszer kompetenciák","x":18.1,"value":0.627},{"panel":"nav","model":"RF - Módszer kompetenciák","x":19.1,"value":0.607},{"panel":"nav","model":"RF - Módszer kompetenciák","x":20.1,"value":0.583},{"panel":"nav","model":"RF - Módszer kompetenciák","x":21.2,"value":0.607},{"panel":"nav","model":"RF - Módszer kompetenciák","x":22.2,"value":0.588},{"panel":"nav","model":"RF - Módszer kompetenciák","x":23.1,"value":0.569},{"panel":"nav","model":"RF - Módszer kompetenciák","x":24.2,"value":0.573},{"panel":"nav","model":"RF - Módszer kompetenciák","x":25.1,"value":0.568},{"panel":"nav","model":"RF - Módszer kompetenciák","x":26.2,"value":0.591},{"panel":"nav","model":"RF - Módszer kompetenciák","x":27.3,"value":0.604},{"panel":"nav","model":"RF - Módszer kompetenciák","x":28.2,"value":0.583},{"panel":"nav","model":"RF - Módszer kompetenciák","x":29.1,"value":0.562},{"panel":"nav","model":"RF - Módszer kompetenciák","x":30.1,"value":0.573},{"panel":"nav","model":"RF - Módszer kompetenciák","x":31.2,"value":0.583},{"panel":"nav","model":"RF - Módszer kompetenciák","x":32.2,"value":0.557},{"panel":"nav","model":"RF - Módszer kompetenciák","x":33.2,"value":0.557},{"panel":"nav","model":"RF - Módszer kompetenciák","x":34,"value":0.599},{"panel":"nav","model":"RF - Módszer kompetenciák","x":35.1,"value":0.588},{"panel":"nav","model":"RF - Módszer kompetenciák","x":36.3,"value":0.596},{"panel":"nav","model":"RF - Módszer kompetenciák","x":37.3,"value":0.615},{"panel":"nav","model":"RF - Módszer kompetenciák","x":38.4,"value":0.685},{"panel":"nav","model":"RF - Módszer kompetenciák","x":40.2,"value":0.69},{"panel":"nav","model":"RF - Módszer kompetenciák","x":42.3,"value":0.69},{"panel":"nav","model":"RF - Módszer kompetenciák","x":43.4,"value":0.807},{"panel":"nav","model":"RF - Módszer kompetenciák","x":44.4,"value":0.807},{"panel":"nav","model":"RF - Módszer kompetenciák","x":45.3,"value":0.775},{"panel":"nav","model":"RF - Módszer kompetenciák","x":49.2,"value":0.775},
  {"panel":"nav","model":"RF - Kiaknázóeszköz-kompetenciák","x":0,"value":0.858},{"panel":"nav","model":"RF - Kiaknázóeszköz-kompetenciák","x":1.06,"value":0.615},{"panel":"nav","model":"RF - Kiaknázóeszköz-kompetenciák","x":2.2,"value":0.562},{"panel":"nav","model":"RF - Kiaknázóeszköz-kompetenciák","x":3,"value":0.569},{"panel":"nav","model":"RF - Kiaknázóeszköz-kompetenciák","x":5.1,"value":0.573},{"panel":"nav","model":"RF - Kiaknázóeszköz-kompetenciák","x":6.2,"value":0.599},{"panel":"nav","model":"RF - Kiaknázóeszköz-kompetenciák","x":7.2,"value":0.615},{"panel":"nav","model":"RF - Kiaknázóeszköz-kompetenciák","x":8,"value":0.588},{"panel":"nav","model":"RF - Kiaknázóeszköz-kompetenciák","x":9,"value":0.568},{"panel":"nav","model":"RF - Kiaknázóeszköz-kompetenciák","x":10.1,"value":0.596},{"panel":"nav","model":"RF - Kiaknázóeszköz-kompetenciák","x":11.1,"value":0.534},{"panel":"nav","model":"RF - Kiaknázóeszköz-kompetenciák","x":12.1,"value":0.538},{"panel":"nav","model":"RF - Kiaknázóeszköz-kompetenciák","x":13.2,"value":0.53},{"panel":"nav","model":"RF - Kiaknázóeszköz-kompetenciák","x":15,"value":0.53},{"panel":"nav","model":"RF - Kiaknázóeszköz-kompetenciák","x":16.1,"value":0.565},{"panel":"nav","model":"RF - Kiaknázóeszköz-kompetenciák","x":17.2,"value":0.557},{"panel":"nav","model":"RF - Kiaknázóeszköz-kompetenciák","x":18.1,"value":0.552},{"panel":"nav","model":"RF - Kiaknázóeszköz-kompetenciák","x":19.1,"value":0.562},{"panel":"nav","model":"RF - Kiaknázóeszköz-kompetenciák","x":20.1,"value":0.526},{"panel":"nav","model":"RF - Kiaknázóeszköz-kompetenciák","x":21.2,"value":0.549},{"panel":"nav","model":"RF - Kiaknázóeszköz-kompetenciák","x":22.2,"value":0.568},{"panel":"nav","model":"RF - Kiaknázóeszköz-kompetenciák","x":23.3,"value":0.513},{"panel":"nav","model":"RF - Kiaknázóeszköz-kompetenciák","x":25.1,"value":0.513},{"panel":"nav","model":"RF - Kiaknázóeszköz-kompetenciák","x":26.2,"value":0.53},{"panel":"nav","model":"RF - Kiaknázóeszköz-kompetenciák","x":27.3,"value":0.518},{"panel":"nav","model":"RF - Kiaknázóeszköz-kompetenciák","x":28.2,"value":0.521},{"panel":"nav","model":"RF - Kiaknázóeszköz-kompetenciák","x":29.1,"value":0.502},{"panel":"nav","model":"RF - Kiaknázóeszköz-kompetenciák","x":30.1,"value":0.518},{"panel":"nav","model":"RF - Kiaknázóeszköz-kompetenciák","x":31.2,"value":0.541},{"panel":"nav","model":"RF - Kiaknázóeszköz-kompetenciák","x":32.2,"value":0.521},{"panel":"nav","model":"RF - Kiaknázóeszköz-kompetenciák","x":33.2,"value":0.521},{"panel":"nav","model":"RF - Kiaknázóeszköz-kompetenciák","x":34.1,"value":0.552},{"panel":"nav","model":"RF - Kiaknázóeszköz-kompetenciák","x":35.3,"value":0.562},{"panel":"nav","model":"RF - Kiaknázóeszköz-kompetenciák","x":36.3,"value":0.568},{"panel":"nav","model":"RF - Kiaknázóeszköz-kompetenciák","x":37.3,"value":0.569},{"panel":"nav","model":"RF - Kiaknázóeszköz-kompetenciák","x":38.4,"value":0.58},{"panel":"nav","model":"RF - Kiaknázóeszköz-kompetenciák","x":40.3,"value":0.591},{"panel":"nav","model":"RF - Kiaknázóeszköz-kompetenciák","x":42.3,"value":0.599},{"panel":"nav","model":"RF - Kiaknázóeszköz-kompetenciák","x":43.4,"value":0.63},{"panel":"nav","model":"RF - Kiaknázóeszköz-kompetenciák","x":44.4,"value":0.677},{"panel":"nav","model":"RF - Kiaknázóeszköz-kompetenciák","x":45.3,"value":0.658},{"panel":"nav","model":"RF - Kiaknázóeszköz-kompetenciák","x":49.2,"value":0.661}
 ]
}
}
